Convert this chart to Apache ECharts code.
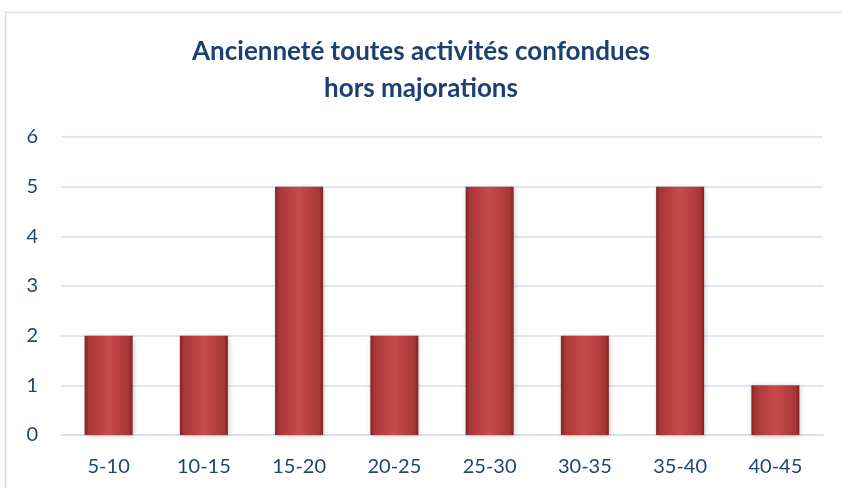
<!DOCTYPE html>
<html><head><meta charset="utf-8">
<script src="https://cdn.jsdelivr.net/npm/echarts@6/dist/echarts.min.js"></script>
<style>html,body{margin:0;padding:0;background:#fff}#c{width:842px;height:488px}</style>
</head><body><div id="c"></div>
<script>
const categories = ['5-10','10-15','15-20','20-25','25-30','30-35','35-40','40-45'];
const values = [2, 2, 5, 2, 5, 2, 5, 1];
const yTicks = [0,1,2,3,4,5,6];
const titleText = 'Ancienneté toutes activités confondues\nhors majorations';

const chart = echarts.init(document.getElementById('c'), null, {renderer:'canvas'});
const textColor = '#1F4477';
const gridColor = '#D3DFF0';
chart.setOption({
  animation:false,
  graphic:[{type:'rect', shape:{x:5.5,y:12.5,width:850,height:500}, style:{fill:'none', stroke:'#D3DFF0', lineWidth:1.5}, silent:true, z:-1}],
  title:{text:titleText, left:'center', top:28, textStyle:{fontFamily:'Lato', fontWeight:'bold', fontSize:26, color:'#1F3F73', lineHeight:37}},
  grid:{left:61, right:19, top:137, bottom:53},
  xAxis:{type:'category', data:categories,
    axisLine:{show:true, lineStyle:{color:gridColor, width:1.5}}, axisTick:{show:false},
    axisLabel:{color:textColor, fontFamily:'Lato', fontSize:20, margin:22}},
  yAxis:{type:'value', min:0, max:6, interval:1,
    axisLine:{show:false}, axisTick:{show:false},
    splitLine:{lineStyle:{color:gridColor, width:1.5}},
    axisLabel:{color:textColor, fontFamily:'Lato', fontSize:20, margin:23, formatter:v=>yTicks.includes(v)?String(v):''}},
  series:[{type:'bar', data:values, barWidth:48,
    itemStyle:{
      color:{type:'linear', x:0, y:0, x2:1, y2:0, colorStops:[
        {offset:0, color:'#7E2222'},{offset:0.08,color:'#A83636'},{offset:0.5,color:'#C84C4C'},{offset:0.92,color:'#A83636'},{offset:1,color:'#7E2222'}]},
      shadowColor:'rgba(0,0,0,0.25)', shadowBlur:5, shadowOffsetX:1, shadowOffsetY:1
    }}]
});
</script></body></html>
